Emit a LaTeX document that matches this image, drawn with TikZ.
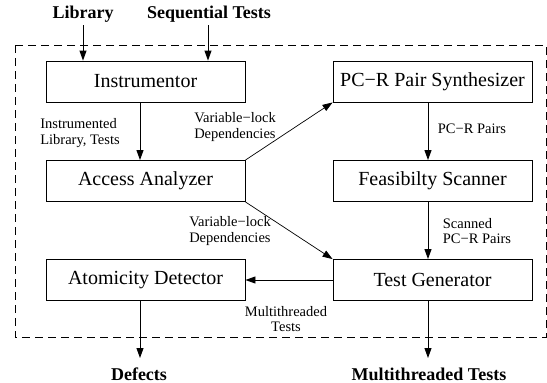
\documentclass[tikz,border=0pt]{standalone}
\usepackage{fontspec}
\setmainfont{Liberation Serif}
\usetikzlibrary{arrows.meta,calc}
\begin{document}
\begin{tikzpicture}[x=1pt,y=-1pt,
  box/.style={draw,line width=0.9pt,minimum width=199pt,minimum height=41pt,inner sep=0pt,font=\fontsize{20}{22}\selectfont},
  lbl/.style={font=\fontsize{14.5}{15.5}\selectfont,inner sep=0pt,align=left},
  io/.style={font=\bfseries\fontsize{18}{20}\selectfont,inner sep=0pt},
  arr/.style={line width=0.9pt,-{Triangle[length=10pt,width=7pt]}},
  darr/.style={line width=0.7pt,-{Triangle[length=10pt,width=7pt]}}]
\useasboundingbox (0,0) rectangle (547,383);
\draw[dash pattern=on 8pt off 5pt,line width=0.8pt] (15,45) rectangle (546,337);
\node[box] (inst) at (145.5,81.5) {Instrumentor};
\node[box] (acc) at (145.5,181) {Access Analyzer};
\node[box] (pcr) at (432.5,81.5) {PC−R Pair Synthesizer};
\node[box] (feas) at (432.5,181) {Feasibilty Scanner};
\node[box] (atom) at (145.5,280) {Atomicity Detector};
\node[box] (tg) at (432.5,280) {Test Generator};
\node[io] (lib) at (83,14) {Library};
\node[io] (seq) at (209,14) {Sequential Tests};
\node[io] (def) at (139,374) {Defects};
\node[io] (mt) at (429,374) {Multithreaded Tests};
\coordinate (libs) at (83,25);
\coordinate (seqs) at (208,25);
\coordinate (defn) at (140,358);
\coordinate (mtn) at (428,358);
\draw[arr] (libs) -- (libs |- inst.north);
\draw[arr] (seqs) -- (seqs |- inst.north);
\draw[arr] (inst.south -| defn) -- (acc.north -| defn);
\draw[arr] (pcr.south -| mtn) -- (feas.north -| mtn);
\draw[arr] (feas.south -| mtn) -- (tg.north -| mtn);
\draw[darr] (acc.north east) -- (pcr.south west);
\draw[darr] (acc.south east) -- (tg.north west);
\draw[arr] (tg.west) -- (atom.east);
\draw[arr] (atom.south -| defn) -- (defn);
\draw[arr] (tg.south -| mtn) -- (mtn);
\node[lbl] (l1) at (80,133) {Instrumented\\Library, Tests};
\node[lbl] (l2) at (235,127) {Variable−lock\\Dependencies};
\node[lbl] (l3) at (230,231) {Variable−lock\\Dependencies};
\node[lbl] (l4) at (472,129) {PC−R Pairs};
\node[lbl] (l5) at (477,231) {Scanned\\PC−R Pairs};
\node[lbl,align=center] (l6) at (286,319) {Multithreaded\\Tests};
\end{tikzpicture}
\end{document}
